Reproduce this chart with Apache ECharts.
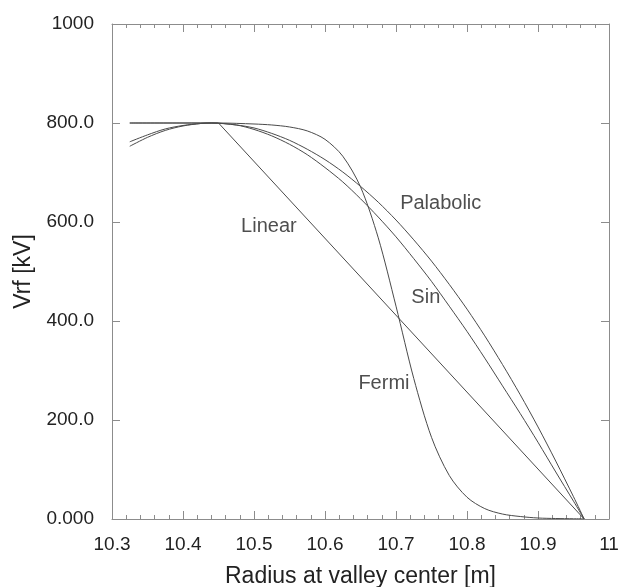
<!DOCTYPE html>
<html>
<head>
<meta charset="utf-8">
<script src="https://cdn.jsdelivr.net/npm/echarts@6/dist/echarts.min.js"></script>
<style>
html,body{margin:0;padding:0;background:#fff;}
#chart{width:620px;height:587px;}
</style>
</head>
<body>
<div id="chart"></div>
<script>
// Radius at valley center [m]
var xCurve = [10.325, 10.35, 10.375, 10.4, 10.425, 10.44, 10.475, 10.5, 10.525, 10.55, 10.575, 10.6, 10.625, 10.65, 10.675, 10.7, 10.725, 10.75, 10.775, 10.8, 10.825, 10.85, 10.875, 10.9, 10.925, 10.95, 10.965];
var yPalabolic = [762, 776, 788, 795, 799, 800, 796, 790, 779, 765, 747, 726, 701, 672, 640, 604, 564, 521, 474, 424, 370, 312, 251, 186, 117, 45, 0];
var ySin = [753, 771, 785, 794, 799, 800, 796, 787, 774, 757, 736, 710, 681, 647, 610, 570, 526, 480, 430, 379, 325, 269, 213, 155, 95, 36, 0];

var xFermi = [10.325, 10.4, 10.45, 10.5, 10.525, 10.55, 10.575, 10.6, 10.625, 10.65, 10.675, 10.7, 10.725, 10.75, 10.775, 10.8, 10.825, 10.85, 10.875, 10.9, 10.925, 10.95, 10.965];
var yFermi = [800, 800, 800, 798, 796, 792, 784, 767, 733, 671, 568, 430, 284, 165, 88, 44, 21, 10, 5, 2, 1, 0.5, 0.3];

var xLinear = [10.325, 10.45, 10.965];
var yLinear = [800, 800, 0];

var labelNames = ['Palabolic', 'Linear', 'Sin', 'Fermi'];
var labelX = [10.763, 10.521, 10.742, 10.683];
var labelY = [638, 590, 448, 273];

var xTickLabels = ['10.3', '10.4', '10.5', '10.6', '10.7', '10.8', '10.9', '11'];
var yTickLabels = ['0.000', '200.0', '400.0', '600.0', '800.0', '1000'];

function pairs(xs, ys) { return xs.map(function (x, i) { return [x, ys[i]]; }); }

var FONT = '"Liberation Sans", Arial, Helvetica, sans-serif';
var TEXT = '#222';
var FRAME = '#8c8c8c';
var LINE = '#4a4a4a';

var chart = echarts.init(document.getElementById('chart'), null, {renderer: 'canvas'});

function xAxisBase() {
  return {
    type: 'value', min: 10.3, max: 11, interval: 0.1,
    axisLine: {show: true, onZero: false, lineStyle: {color: FRAME, width: 1}},
    axisTick: {show: true, inside: true, length: 8, lineStyle: {color: FRAME, width: 1}},
    minorTick: {show: true, splitNumber: 5, length: 4, lineStyle: {color: FRAME, width: 1}},
    splitLine: {show: false}
  };
}
function yAxisBase() {
  return {
    type: 'value', min: 0, max: 1000, interval: 200,
    axisLine: {show: true, onZero: false, lineStyle: {color: FRAME, width: 1}},
    axisTick: {show: true, inside: true, length: 8, lineStyle: {color: FRAME, width: 1}},
    splitLine: {show: false}
  };
}

var option = {
  backgroundColor: '#fff',
  animation: false,
  grid: {left: 112, right: 11, top: 24, bottom: 68, containLabel: false, outerBoundsMode: 'none'},
  xAxis: [
    Object.assign(xAxisBase(), {
      position: 'bottom',
      name: 'Radius at valley center [m]', nameLocation: 'middle', nameGap: 46,
      nameTextStyle: {fontFamily: FONT, fontSize: 23, color: TEXT},
      axisLabel: {
        show: true, margin: 16, fontFamily: FONT, fontSize: 19, color: TEXT,
        formatter: function (v) { return xTickLabels[Math.round((v - 10.3) / 0.1)]; }
      }
    }),
    Object.assign(xAxisBase(), {position: 'top', axisLabel: {show: false}})
  ],
  yAxis: [
    Object.assign(yAxisBase(), {
      position: 'left',
      name: 'Vrf [kV]', nameLocation: 'middle', nameGap: 66, nameRotate: 90,
      nameTextStyle: {fontFamily: FONT, fontSize: 23, color: TEXT},
      axisLabel: {
        show: true, margin: 18, fontFamily: FONT, fontSize: 19, color: TEXT,
        formatter: function (v) { return yTickLabels[Math.round(v / 200)]; }
      }
    }),
    Object.assign(yAxisBase(), {position: 'right', axisLabel: {show: false}})
  ],
  series: [
    {name: 'Palabolic', type: 'line', data: pairs(xCurve, yPalabolic), smooth: 0.3,
      showSymbol: false, lineStyle: {color: LINE, width: 1}},
    {name: 'Sin', type: 'line', data: pairs(xCurve, ySin), smooth: 0.3,
      showSymbol: false, lineStyle: {color: LINE, width: 1}},
    {name: 'Fermi', type: 'line', data: pairs(xFermi, yFermi), smooth: 0.3,
      showSymbol: false, lineStyle: {color: LINE, width: 1}},
    {name: 'Linear', type: 'line', data: pairs(xLinear, yLinear), smooth: false,
      showSymbol: false, lineStyle: {color: LINE, width: 1}},
    {name: 'labels', type: 'scatter', symbolSize: 1, silent: true,
      itemStyle: {color: 'rgba(0,0,0,0)'},
      data: labelX.map(function (x, i) { return {value: [x, labelY[i]], name: labelNames[i]}; }),
      label: {show: true, position: 'inside', formatter: '{b}', fontFamily: FONT, fontSize: 20, color: TEXT}}
  ]
};
chart.setOption(option);
</script>
</body>
</html>
